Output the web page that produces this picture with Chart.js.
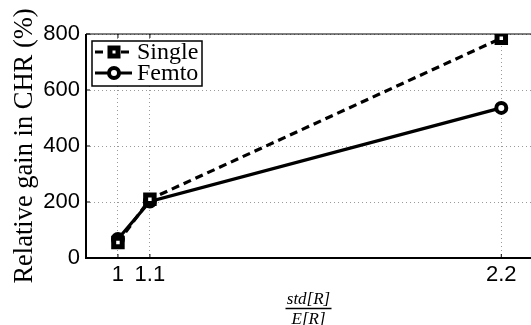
<!DOCTYPE html>
<html>
<head>
<meta charset="utf-8">
<script src="https://cdn.jsdelivr.net/npm/chart.js@4"></script>
<style>
  html, body { margin: 0; padding: 0; background: #fff; }
</style>
</head>
<body>
<canvas id="chart" width="531" height="325"></canvas>
<script>
const ratios = [1, 1.1, 2.2];
const singleGain = [55, 210, 785];
const femtoGain = [68, 202, 536];
const seriesNames = ['Single', 'Femto'];
const xTicks = [1, 1.1, 2.2];
const yTicks = [0, 200, 400, 600, 800];

const chartEl = document.getElementById('chart');

const SERIF = '"Liberation Serif", "DejaVu Serif", serif';
const SANS = '"Liberation Sans", Arial, sans-serif';

const toPoints = vals => vals.map((v, i) => ({ x: ratios[i], y: v }));

// frame with inward ticks, drawn under the lines
const framePlugin = {
    id: 'frame',
    beforeDatasetsDraw(chart) {
        const { ctx, chartArea: a, scales } = chart;
        ctx.save();
        ctx.strokeStyle = '#000';
        ctx.lineWidth = 1;
        ctx.beginPath();
        ctx.moveTo(a.left, a.top);
        ctx.lineTo(a.right, a.top);
        scales.x.ticks.forEach(t => {
            const px = scales.x.getPixelForValue(t.value);
            ctx.moveTo(px, a.top);
            ctx.lineTo(px, a.top + 4);
            ctx.moveTo(px, a.bottom);
            ctx.lineTo(px, a.bottom - 4);
        });
        scales.y.ticks.forEach(t => {
            const py = scales.y.getPixelForValue(t.value);
            ctx.moveTo(a.left, py);
            ctx.lineTo(a.left + 4, py);
        });
        ctx.stroke();
        ctx.lineWidth = 2;
        ctx.beginPath();
        ctx.moveTo(a.left, a.top);
        ctx.lineTo(a.left, a.bottom);
        ctx.lineTo(a.right, a.bottom);
        ctx.stroke();
        ctx.restore();
    }
};

function drawMarker(ctx, style, x, y) {
    ctx.save();
    ctx.strokeStyle = '#000';
    ctx.fillStyle = '#fff';
    ctx.setLineDash([]);
    ctx.beginPath();
    if (style === 'rect') {
        ctx.lineWidth = 5;
        ctx.rect(x - 4, y - 4, 8, 8);
    } else {
        ctx.lineWidth = 4;
        ctx.arc(x, y, 5, 0, Math.PI * 2);
    }
    ctx.fill();
    ctx.stroke();
    ctx.restore();
}

// boxed legend inside the plot + fraction label under the x axis
const extrasPlugin = {
    id: 'extras',
    afterDraw(chart) {
        const { ctx, chartArea: a } = chart;
        ctx.save();
        // legend
        const bx = 92, by = 41, bw = 110, bh = 45;
        ctx.fillStyle = '#fff';
        ctx.fillRect(bx, by, bw, bh);
        ctx.strokeStyle = '#000';
        ctx.lineWidth = 1.5;
        ctx.strokeRect(bx, by, bw, bh);
        const rows = [52, 73];
        chart.data.datasets.forEach((ds, i) => {
            const y = rows[i];
            ctx.strokeStyle = '#000';
            ctx.lineWidth = 3;
            ctx.setLineDash(ds.borderDash || []);
            ctx.beginPath();
            ctx.moveTo(95, y);
            ctx.lineTo(132, y);
            ctx.stroke();
            drawMarker(ctx, ds.pointStyle, 114, y);
            ctx.setLineDash([]);
            ctx.fillStyle = '#000';
            ctx.font = '24px ' + SERIF;
            ctx.textBaseline = 'alphabetic';
            ctx.textAlign = 'left';
            ctx.fillText(ds.label, 137, y + 7);
        });
        // x title as a fraction
        const cx = (a.left + a.right) / 2;
        ctx.fillStyle = '#000';
        ctx.font = 'italic 17px ' + SERIF;
        ctx.textAlign = 'center';
        ctx.fillText('std[R]', cx, 304);
        ctx.fillText('E[R]', cx, 324);
        ctx.lineWidth = 1.5;
        ctx.beginPath();
        ctx.moveTo(cx - 23, 308.5);
        ctx.lineTo(cx + 23, 308.5);
        ctx.stroke();
        ctx.restore();
    }
};

const gainChart = new Chart(chartEl, { // eslint-disable-line
    type: 'line',
    data: {
        datasets: [{
            label: seriesNames[0],
            data: toPoints(singleGain),
            borderColor: '#000',
            backgroundColor: '#fff',
            borderWidth: 3.2,
            borderDash: [8, 5],
            pointStyle: 'rect',
            pointRadius: 6,
            pointBorderWidth: 5,
            pointBackgroundColor: '#fff',
            pointBorderColor: '#000'
        }, {
            label: seriesNames[1],
            data: toPoints(femtoGain),
            borderColor: '#000',
            backgroundColor: '#fff',
            borderWidth: 3.2,
            pointStyle: 'circle',
            pointRadius: 5,
            pointBorderWidth: 4,
            pointBackgroundColor: '#fff',
            pointBorderColor: '#000'
        }]
    },
    options: {
        responsive: false,
        animation: false,
        layout: { autoPadding: false, padding: { top: 34, left: 0, right: 0, bottom: 0 } },
        plugins: {
            legend: { display: false },
            tooltip: { enabled: false }
        },
        scales: {
            x: {
                type: 'linear',
                min: 0.9,
                max: 2.293,
                afterBuildTicks: scale => { scale.ticks = xTicks.map(v => ({ value: v })); },
                afterFit: scale => {
                    scale.height = 67;
                    scale.paddingLeft = 0;
                    scale.paddingRight = 0;
                },
                ticks: {
                    color: '#000',
                    padding: 4,
                    font: { family: SANS, size: 22 },
                    callback: v => String(v)
                },
                grid: { color: '#9a9a9a', lineWidth: 1, drawTicks: false },
                border: { display: false, dash: [1, 3] }
            },
            y: {
                min: 0,
                max: 800,
                afterBuildTicks: scale => { scale.ticks = yTicks.map(v => ({ value: v })); },
                afterFit: scale => { scale.width = 86; },
                ticks: {
                    color: '#000',
                    padding: 6,
                    font: { family: SANS, size: 22 }
                },
                title: {
                    display: true,
                    text: 'Relative gain in CHR (%)',
                    color: '#000',
                    font: { family: SERIF, size: 26.5 },
                    padding: { top: 9, bottom: 0 }
                },
                grid: { color: '#9a9a9a', lineWidth: 1, drawTicks: false },
                border: { display: false, dash: [1, 3] }
            }
        }
    },
    plugins: [framePlugin, extrasPlugin]
});
</script>
</body>
</html>
